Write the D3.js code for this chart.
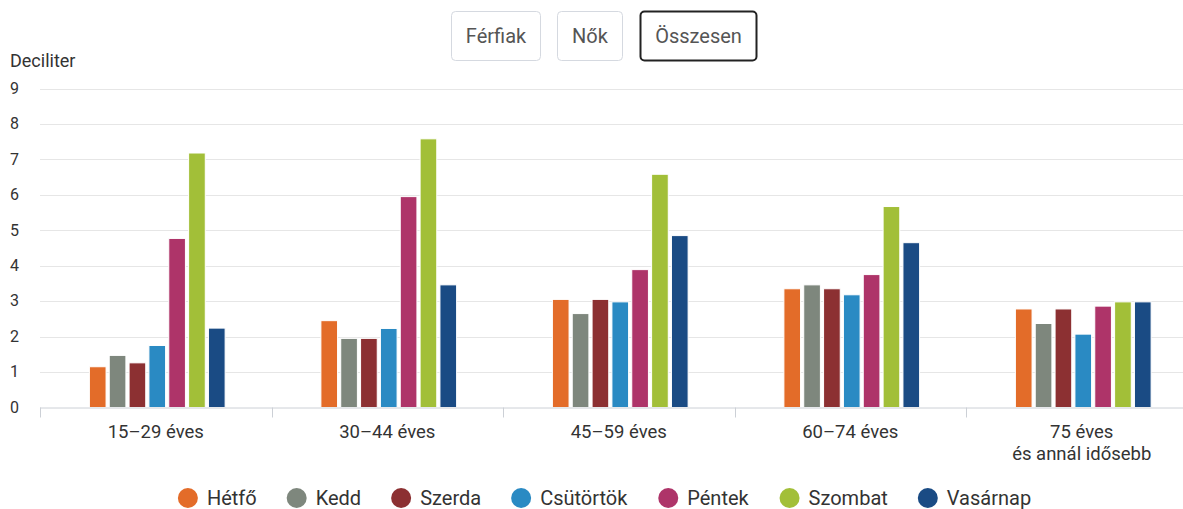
<!DOCTYPE html>
<html><head><meta charset="utf-8">
<script src="https://cdn.jsdelivr.net/npm/d3@7"></script>
<style>
html,body{margin:0;padding:0;background:#fff;}
svg{display:block;font-family:Roboto,"Noto Sans",sans-serif;}
</style></head>
<body><svg id="c" width="1183" height="509"></svg>
<script>
const categories = [["15–29 éves"],["30–44 éves"],["45–59 éves"],["60–74 éves"],["75 éves","és annál idősebb"]];
const seriesNames = ["Hétfő","Kedd","Szerda","Csütörtök","Péntek","Szombat","Vasárnap"];
const seriesColors = ["#E36C29","#7E877D","#8C3032","#2A8AC3","#AE3469","#A2BF38","#1A4B84"];
const hetfo     = [1.15, 2.45, 3.05, 3.35, 2.78];
const kedd      = [1.47, 1.95, 2.65, 3.46, 2.37];
const szerda    = [1.26, 1.95, 3.05, 3.35, 2.78];
const csutortok = [1.75, 2.23, 2.98, 3.18, 2.07];
const pentek    = [4.77, 5.95, 3.89, 3.75, 2.86];
const szombat   = [7.18, 7.58, 6.58, 5.67, 2.98];
const vasarnap  = [2.24, 3.46, 4.85, 4.65, 2.98];
const seriesValues = [hetfo,kedd,szerda,csutortok,pentek,szombat,vasarnap];
const yTicks = [0,1,2,3,4,5,6,7,8,9];
const buttons = ["Férfiak","Nők","Összesen"];
const yTitle = "Deciliter";

const svg = d3.select("#c");
const catKeys = categories.map(c=>c.join(" "));
const x = d3.scaleBand().domain(catKeys).range([40, 40+5*231.5]).paddingInner(0).paddingOuter(0);
const y = d3.scaleLinear().domain([0,9]).range([407.5, 88.5]);
const xs = d3.scaleBand().domain(seriesNames).range([x.bandwidth()*0.2+1.5, x.bandwidth()*0.8+1.5]).paddingInner(0.16).paddingOuter(0.08);

// buttons
const btnGeo = [{x:451,w:90},{x:557,w:66},{x:640,w:117}];
buttons.forEach((b,i)=>{
  const g = svg.append("g");
  const sel = i===2;
  g.append("rect").attr("x",btnGeo[i].x+0.5).attr("y",11.5).attr("width",btnGeo[i].w-1).attr("height",49)
    .attr("rx",4).attr("fill","#fff").attr("stroke",sel?"#222":"#d5d9e0").attr("stroke-width",sel?2:1);
  g.append("text").attr("x",btnGeo[i].x+btnGeo[i].w/2).attr("y",42.5).attr("text-anchor","middle")
    .attr("font-size",20).attr("fill","#555").text(b);
});

// y title
svg.append("text").attr("x",10).attr("y",67).attr("font-size",18).attr("fill","#333").text(yTitle);

// grid
const yAxis = d3.axisLeft(y).tickValues(yTicks).tickSize(0).tickFormat(d3.format("d"));
const ga = svg.append("g");
ga.selectAll("line.grid").data(yTicks.filter(d=>d>0)).join("line")
  .attr("x1",40).attr("x2",1183).attr("y1",d=>Math.round(y(d))+0.5).attr("y2",d=>Math.round(y(d))+0.5)
  .attr("stroke","#e6e6e6").attr("stroke-width",1.2);
const yg = svg.append("g").attr("transform","translate(10,0)").call(yAxis);
yg.select(".domain").remove();
yg.selectAll("text").attr("text-anchor","start").attr("x",0).attr("dy","0.3em").attr("font-size",16)
  .attr("font-family","Roboto,sans-serif").attr("fill","#333");

// bars
const groups = svg.append("g").selectAll("g").data(seriesNames).join("g").attr("fill",(d,i)=>seriesColors[i]);
groups.selectAll("rect").data((s,i)=>seriesValues[i].map((v,j)=>({s,v,c:catKeys[j]}))).join("rect")
  .attr("x",d=>x(d.c)+xs(d.s)).attr("width",xs.bandwidth())
  .attr("y",d=>y(d.v)).attr("height",d=>y(0)-y(d.v))
  .attr("stroke","#fff").attr("stroke-width",1);

// x axis
const xAxisG = svg.append("g").attr("transform",`translate(0,${y(0)})`);
xAxisG.append("line").attr("x1",40).attr("x2",1183).attr("y1",0.5).attr("y2",0.5).attr("stroke","#ccd0d6").attr("stroke-width",1);
const bounds = d3.range(0,6).map(i=>40+i*x.bandwidth());
xAxisG.selectAll("line.tk").data(bounds.filter(b=>b<1183)).join("line").attr("class","tk")
  .attr("x1",d=>Math.round(d)+0.5).attr("x2",d=>Math.round(d)+0.5).attr("y1",0).attr("y2",10)
  .attr("stroke","#ccd0d6");
xAxisG.selectAll("text").data(categories).join("text")
  .attr("x",(d,i)=>x(catKeys[i])+x.bandwidth()/2).attr("y",30).attr("text-anchor","middle")
  .attr("font-size",18.5).attr("fill","#333")
  .each(function(d){
    const t=d3.select(this);
    d.forEach((line,k)=>t.append("tspan").attr("x",t.attr("x")).attr("dy",k===0?0:22).text(line));
  });

// legend
const lg = svg.append("g");
const items = lg.selectAll("g").data(seriesNames).join("g");
items.append("circle").attr("r",10).attr("cy",0).attr("cx",10).attr("fill",(d,i)=>seriesColors[i]);
items.append("text").attr("x",29).attr("y",0).attr("dy","0.36em").attr("font-size",20).attr("fill","#333").text(d=>d);
const gap = 30; const widths=[];
items.each(function(){ widths.push(this.getBBox().width); });
const total = d3.sum(widths)+gap*(widths.length-1);
let start = 604.5 - total/2;
items.attr("transform",(d,i)=>{ const t=`translate(${start},498)`; start+=widths[i]+gap; return t; });
</script></body></html>
